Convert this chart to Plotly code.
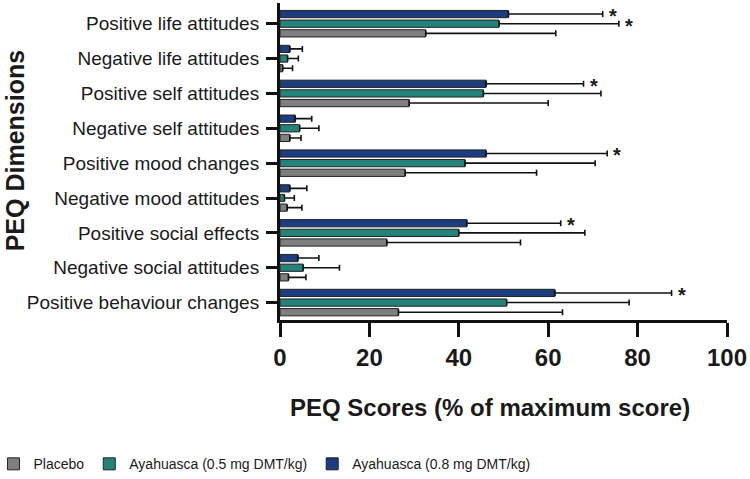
import plotly.graph_objects as go

categories = [
    "Positive life attitudes",
    "Negative life attitudes",
    "Positive self attitudes",
    "Negative self attitudes",
    "Positive mood changes",
    "Negative mood attitudes",
    "Positive social effects",
    "Negative social attitudes",
    "Positive behaviour changes",
]

series_names = ["Placebo", "Ayahuasca (0.5 mg DMT/kg)", "Ayahuasca (0.8 mg DMT/kg)"]

placebo_mean = [32.6, 0.6, 28.9, 2.2, 28.0, 1.6, 23.9, 1.9, 26.5]
placebo_err = [29.1, 2.2, 31.1, 2.5, 29.4, 3.3, 29.9, 3.9, 36.7]

aya05_mean = [49.0, 1.7, 45.5, 4.4, 41.4, 1.0, 40.0, 5.2, 50.7]
aya05_err = [26.8, 2.4, 26.3, 4.3, 29.1, 2.2, 28.2, 8.1, 27.4]

aya08_mean = [51.1, 2.2, 46.1, 3.4, 46.1, 2.2, 41.8, 4.0, 61.5]
aya08_err = [21.1, 2.8, 21.8, 3.7, 27.1, 3.8, 21.0, 4.7, 26.1]

# significance markers (*) per series
aya05_sig = [True, False, False, False, False, False, False, False, False]
aya08_sig = [True, False, True, False, True, False, True, False, True]

x_ticks = [0, 20, 40, 60, 80, 100]

colors = ["#7f7f7f", "#23837a", "#1c3d7e"]
means = [placebo_mean, aya05_mean, aya08_mean]
errs = [placebo_err, aya05_err, aya08_err]

FONT = "Liberation Sans, Arial, sans-serif"
TXT = "#1a1a1a"
AX = "#111111"

fig = go.Figure()
for name, m, e, c in zip(series_names, means, errs, colors):
    fig.add_trace(go.Bar(
        name=name,
        y=categories,
        x=m,
        orientation="h",
        marker=dict(color=c, line=dict(color="#222222", width=1)),
        error_x=dict(type="data", symmetric=False, array=e,
                     arrayminus=[0] * len(e), color=AX,
                     thickness=1.6, width=3),
    ))

# group geometry for star placement (pixels)
slot_px = 35.1
bargap = 0.17
group_px = slot_px * (1 - bargap)
bar_step = group_px / 3

annotations = []
for sig, m, e, shift in [(aya05_sig, aya05_mean, aya05_err, 0.0),
                         (aya08_sig, aya08_mean, aya08_err, bar_step)]:
    for cat, s, mv, ev in zip(categories, sig, m, e):
        if s:
            annotations.append(dict(
                x=mv + ev, y=cat, xref="x", yref="y", text="<b>*</b>",
                showarrow=False, xanchor="left", yanchor="middle",
                xshift=4, yshift=shift - 2,
                font=dict(size=20, color=TXT, family=FONT)))

annotations.append(dict(
    x=-0.593, y=0.535, xref="paper", yref="paper", text="<b>PEQ Dimensions</b>",
    textangle=-90, showarrow=False, xanchor="center", yanchor="middle",
    font=dict(size=25, color=TXT, family=FONT)))

annotations.append(dict(
    x=0.47, y=-0.275, xref="paper", yref="paper",
    text="<b>PEQ Scores (% of maximum score)</b>",
    showarrow=False, xanchor="center", yanchor="middle",
    font=dict(size=24, color=TXT, family=FONT)))

fig.update_layout(
    width=750, height=479,
    margin=dict(l=280, r=23, t=3, b=159, autoexpand=False),
    paper_bgcolor="white", plot_bgcolor="white",
    barmode="group", bargap=bargap, bargroupgap=0.25,
    font=dict(family=FONT, color=TXT),
    showlegend=True,
    legend=dict(orientation="h", x=-0.641, xanchor="left", y=-0.455,
                yanchor="middle", itemwidth=30,
                font=dict(size=14, family=FONT, color=TXT),
                traceorder="normal"),
    annotations=annotations,
    xaxis=dict(range=[0, 100], tickvals=x_ticks,
               ticktext=[f"<b>{t}</b>" for t in x_ticks],
               tickfont=dict(size=24, color=TXT, family=FONT),
               showline=True, linecolor=AX, linewidth=3, mirror=False,
               ticks="outside", ticklen=14, tickwidth=3, tickcolor=AX,
               showgrid=False, zeroline=False, showspikes=False,
               automargin=False),
    yaxis=dict(categoryorder="array", categoryarray=categories[::-1],
               tickfont=dict(size=19, color=TXT, family=FONT),
               showline=True, linecolor=AX, linewidth=3, mirror=False,
               ticks="outside", ticklen=11, tickwidth=3, tickcolor=AX,
               ticklabelstandoff=3,
               showgrid=False, zeroline=False, showspikes=False,
               automargin=False),
)

fig.write_html("out.html")
